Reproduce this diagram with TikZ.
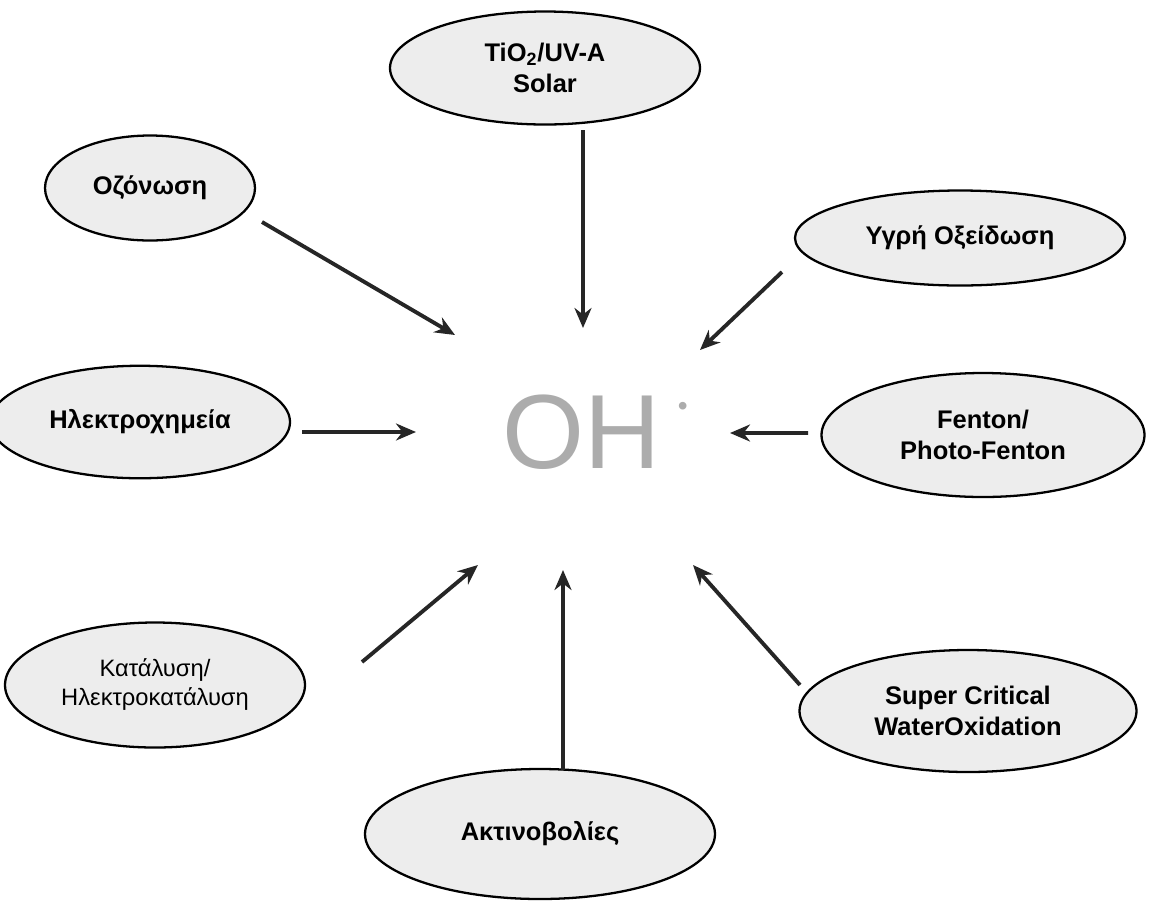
\documentclass[tikz,border=0pt]{standalone}
\usepackage{fontspec}
\setmainfont{Liberation Sans}
\usepackage{tikz}
\usetikzlibrary{arrows.meta,shapes.geometric,calc}
\tikzstyle{ohmap}=[
  >={Stealth[length=4mm,width=3.4mm]}, font=\bfseries\fontsize{14.5}{17.5}\selectfont
]
\tikzstyle{method}=[
  ellipse, draw, line width=1.3pt, fill=gray!14, inner sep=0pt, align=center
]
\tikzstyle{flow}=[
  ->, line width=2.2pt, draw=black!85
]
\begin{document}
\begin{tikzpicture}[ohmap]
    \useasboundingbox (0,0) rectangle (23.12,-18.12);
    \node (oh) [text=gray!65, font=\fontsize{60}{60}\selectfont] at (11.9,-8.64)
        {OH\hspace{0.35cm}\raisebox{1.05cm}{\fontsize{16}{16}\selectfont\textbullet}};
    \node (tio2) [method, minimum width=6.2cm, minimum height=2.26cm] at (10.9,-1.36)
        {TiO\textsubscript{2}/UV-A\\Solar};
    \node (ozon) [method, minimum width=4.2cm, minimum height=2.1cm] at (3.0,-3.76) {Οζόνωση};
    \node (ygri) [method, minimum width=6.6cm, minimum height=1.9cm] at (19.2,-4.76) {Υγρή Οξείδωση};
    \node (ilek) [method, minimum width=6.0cm, minimum height=2.25cm] at (2.8,-8.44) {Ηλεκτροχημεία};
    \node (fenton) [method, minimum width=6.46cm, minimum height=2.48cm] at (19.66,-8.7)
        {Fenton/\\Photo-Fenton};
    \node (katal) [method, minimum width=6.0cm, minimum height=2.5cm,
        font=\fontsize{13.5}{16.5}\selectfont] at (3.1,-13.7) {Κατάλυση/\\Ηλεκτροκατάλυση};
    \node (scwo) [method, minimum width=6.74cm, minimum height=2.44cm] at (19.36,-14.22)
        {Super Critical\\WaterOxidation};
    \node (aktin) [method, minimum width=7.0cm, minimum height=2.6cm] at (10.8,-16.68) {Ακτινοβολίες};
    % arrows towards OH
    \draw [flow] ($(tio2) + (0.76,-1.24)$) -- ($(oh) + (-0.24,2.08)$);
    \draw [flow] ($(ozon) + (2.24,-0.68)$) -- ($(oh) + (-2.8,1.94)$);
    \draw [flow] ($(ygri) + (-3.56,-0.68)$) -- ($(oh) + (2.1,1.64)$);
    \draw [flow] ($(ilek) + (3.24,-0.2)$) -- ($(oh) + (-3.58,0.0)$);
    \draw [flow] ($(fenton) + (-3.5,0.04)$) -- ($(oh) + (2.7,-0.02)$);
    \draw [flow] ($(katal) + (4.14,0.46)$) -- ($(oh) + (-2.34,-2.66)$);
    \draw [flow] ($(aktin) + (0.46,1.28)$) -- ($(oh) + (-0.64,-2.76)$);
    \draw [flow] ($(scwo) + (-3.36,0.52)$) -- ($(oh) + (1.96,-2.66)$);
\end{tikzpicture}
\end{document}
